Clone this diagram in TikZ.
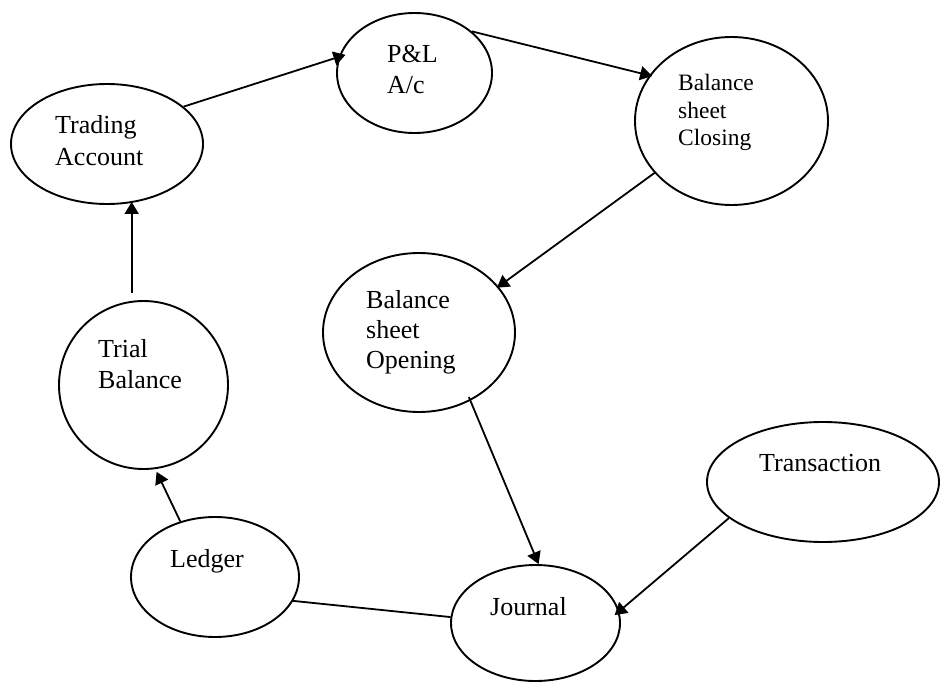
\documentclass[tikz,border=0pt]{standalone}
\usepackage{fontspec}
\setmainfont{Liberation Serif}
\usetikzlibrary{shapes.geometric,arrows.meta}
\begin{document}
\begin{tikzpicture}[x=1pt,y=-1pt,
  oval/.style={draw,ellipse,line width=1.9pt,inner sep=0pt},
  lbl/.style={anchor=base west,inner sep=0pt,font=\fontsize{26}{30}\selectfont},
  lbls/.style={anchor=base west,inner sep=0pt,font=\fontsize{23.5}{28}\selectfont},
  arr/.style={line width=1.8pt,-{Triangle[length=12pt,width=14pt]}},
  ln/.style={line width=1.8pt}]
\useasboundingbox (0,0) rectangle (940,682);
% ellipses
\node[oval,minimum width=192pt,minimum height=120pt] (TA) at (107,144) {};
\node[oval,minimum width=155pt,minimum height=120pt] (PL) at (414.5,73) {};
\node[oval,minimum width=193pt,minimum height=168pt] (BC) at (731.5,121) {};
\node[oval,minimum width=192pt,minimum height=159pt] (BO) at (419,332.5) {};
\node[oval,minimum width=169pt,minimum height=168pt] (TB) at (143.5,385) {};
\node[oval,minimum width=232pt,minimum height=120pt] (TR) at (823,482) {};
\node[oval,minimum width=168pt,minimum height=120pt] (LG) at (215,577) {};
\node[oval,minimum width=169pt,minimum height=116pt] (JN) at (535.5,623) {};
% texts
\node[lbl] (tA1) at (55,134) {Trading};
\node[lbl] (tA2) at (55,166) {Account};
\node[lbl] (tP1) at (387,63) {P\&L};
\node[lbl] (tP2) at (387,94) {A/c};
\node[lbls] (tC1) at (678,91) {Balance};
\node[lbls] (tC2) at (678,119) {sheet};
\node[lbls] (tC3) at (678,146) {Closing};
\node[lbl] (tO1) at (366,308) {Balance};
\node[lbl] (tO2) at (366,338) {sheet};
\node[lbl] (tO3) at (366,368) {Opening};
\node[lbl] (tT1) at (98,357) {Trial};
\node[lbl] (tT2) at (98,388) {Balance};
\node[lbl] (tR1) at (759,471) {Transaction};
\node[lbl] (tL1) at (170,567) {Ledger};
\node[lbl] (tJ1) at (490,615) {Journal};
% connectors
\draw[arr,shorten >=-7pt] (TA.26.9) -- (PL.168.3);
\draw[arr,shorten >=-3pt] (PL.36.5) -- (BC.151.3);
\draw[arr,shorten >=-2pt] (BC.214.2) -- (BO.30.9);
\draw[arr,shorten <=-4pt] (BO.-53.3) -- (JN.87.6);
\draw[arr,shorten >=-6pt] (TR.201.7) -- (JN.8.2);
\draw[arr,shorten <=8pt,shorten >=-3pt] (TB.98) -- (TB.98 |- TA.south);
\draw[arr,shorten >=3pt] (LG.122.5) -- (TB.-82.5);
\draw[ln] (LG.-17.3) -- (JN.176.6);
\end{tikzpicture}
\end{document}
